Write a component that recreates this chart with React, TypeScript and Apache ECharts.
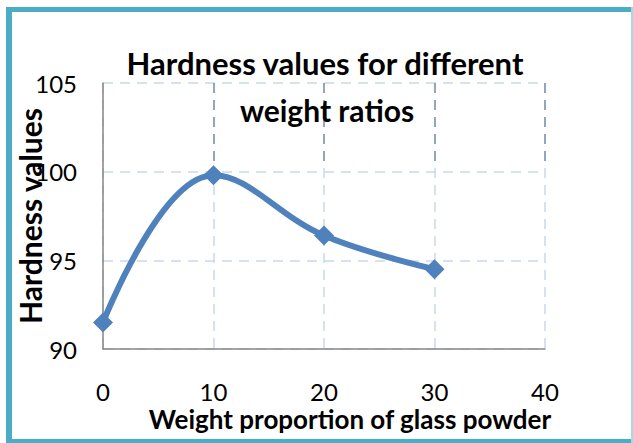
import React, { useEffect, useRef } from "react";
import * as echarts from "echarts";

const xValues = [0, 10, 20, 30];
const hardness = [91.5, 99.8, 96.4, 94.5];
const xTicks = [0, 10, 20, 30, 40];
const yTicks = [90, 95, 100, 105];
const titleLines = ["Hardness values for different", "weight ratios"];
const xName = "Weight proportion of glass powder";
const yName = "Hardness values";
const darkGridX = [10, 20, 30, 40];

const FONT = "Lato";

export default function App() {
  const ref = useRef<HTMLDivElement>(null);
  useEffect(() => {
    const chart = echarts.init(ref.current!, null, { renderer: "svg" });
    const frame = "#4BACC6";
    chart.setOption({
      animation: false,
      backgroundColor: "#ffffff",
      title: [
        {
          text: titleLines[0],
          left: 320,
          top: 42,
          textAlign: "center",
          textStyle: { fontFamily: FONT, fontWeight: "bold", fontSize: 31, color: "#000" },
        },
        {
          text: titleLines[1],
          left: 322,
          top: 90,
          textAlign: "center",
          textStyle: { fontFamily: FONT, fontWeight: "bold", fontSize: 30, color: "#000" },
        },
      ],
      graphic: [
        { type: "rect", shape: { x: 6, y: 7, width: 6, height: 436 }, style: { fill: frame } },
        { type: "rect", shape: { x: 6, y: 7, width: 627, height: 5 }, style: { fill: frame } },
        { type: "rect", shape: { x: 6, y: 439, width: 627, height: 4 }, style: { fill: frame } },
        { type: "rect", shape: { x: 631, y: 7, width: 2, height: 436 }, style: { fill: "#a9d8e5" } },
      ],
      grid: {
        left: 103,
        right: 88,
        top: 83,
        bottom: 94,
        containLabel: false,
        outerBoundsMode: "none",
      },
      xAxis: {
        type: "value",
        min: xTicks[0],
        max: xTicks[xTicks.length - 1],
        interval: 10,
        name: xName,
        nameLocation: "middle",
        nameGap: 57,
        nameMoveOverlap: false,
        nameTextStyle: {
          fontFamily: FONT,
          fontWeight: "bold",
          fontSize: 26,
          lineHeight: 26,
          color: "#000",
          padding: [0, 0, 0, 52],
        },
        axisLine: { show: true, lineStyle: { color: "#868686", width: 1.5 } },
        axisTick: { show: false },
        axisLabel: { margin: 30, fontFamily: FONT, fontSize: 24, lineHeight: 24, color: "#000" },
        splitLine: {
          show: true,
          lineStyle: { color: "#c9d7ee", type: [10, 7], width: 1.5 },
        },
      },
      yAxis: {
        type: "value",
        min: yTicks[0],
        max: yTicks[yTicks.length - 1],
        interval: 5,
        name: yName,
        nameLocation: "middle",
        nameGap: 58,
        nameMoveOverlap: false,
        nameTextStyle: { fontFamily: FONT, fontWeight: "bold", fontSize: 30, color: "#000" },
        axisLine: { show: true, lineStyle: { color: "#868686", width: 1.5 } },
        axisTick: { show: false },
        axisLabel: { margin: 26, fontFamily: FONT, fontSize: 24, color: "#000" },
        splitLine: {
          show: true,
          lineStyle: { color: "#c9d7ee", type: [10, 7], width: 1.5 },
        },
      },
      series: [
        {
          type: "line",
          data: xValues.map((x, i) => [x, hardness[i]]),
          smooth: 0.4,
          symbol: "diamond",
          symbolSize: 20,
          lineStyle: { color: "#4F81BD", width: 6 },
          itemStyle: { color: "#4F81BD" },
          markLine: {
            silent: true,
            symbol: "none",
            label: { show: false },
            lineStyle: { color: "#7f91b0", type: [10, 7], width: 1.5 },
            data: darkGridX.map((x) => [
              { coord: [x, 105] },
              { coord: [x, 100.5] },
            ]),
          },
        },
      ],
    });
    return () => chart.dispose();
  }, []);
  return (
    <div
      ref={ref}
      style={{ position: "fixed", left: 0, top: 0, width: 633, height: 443 }}
    />
  );
}
